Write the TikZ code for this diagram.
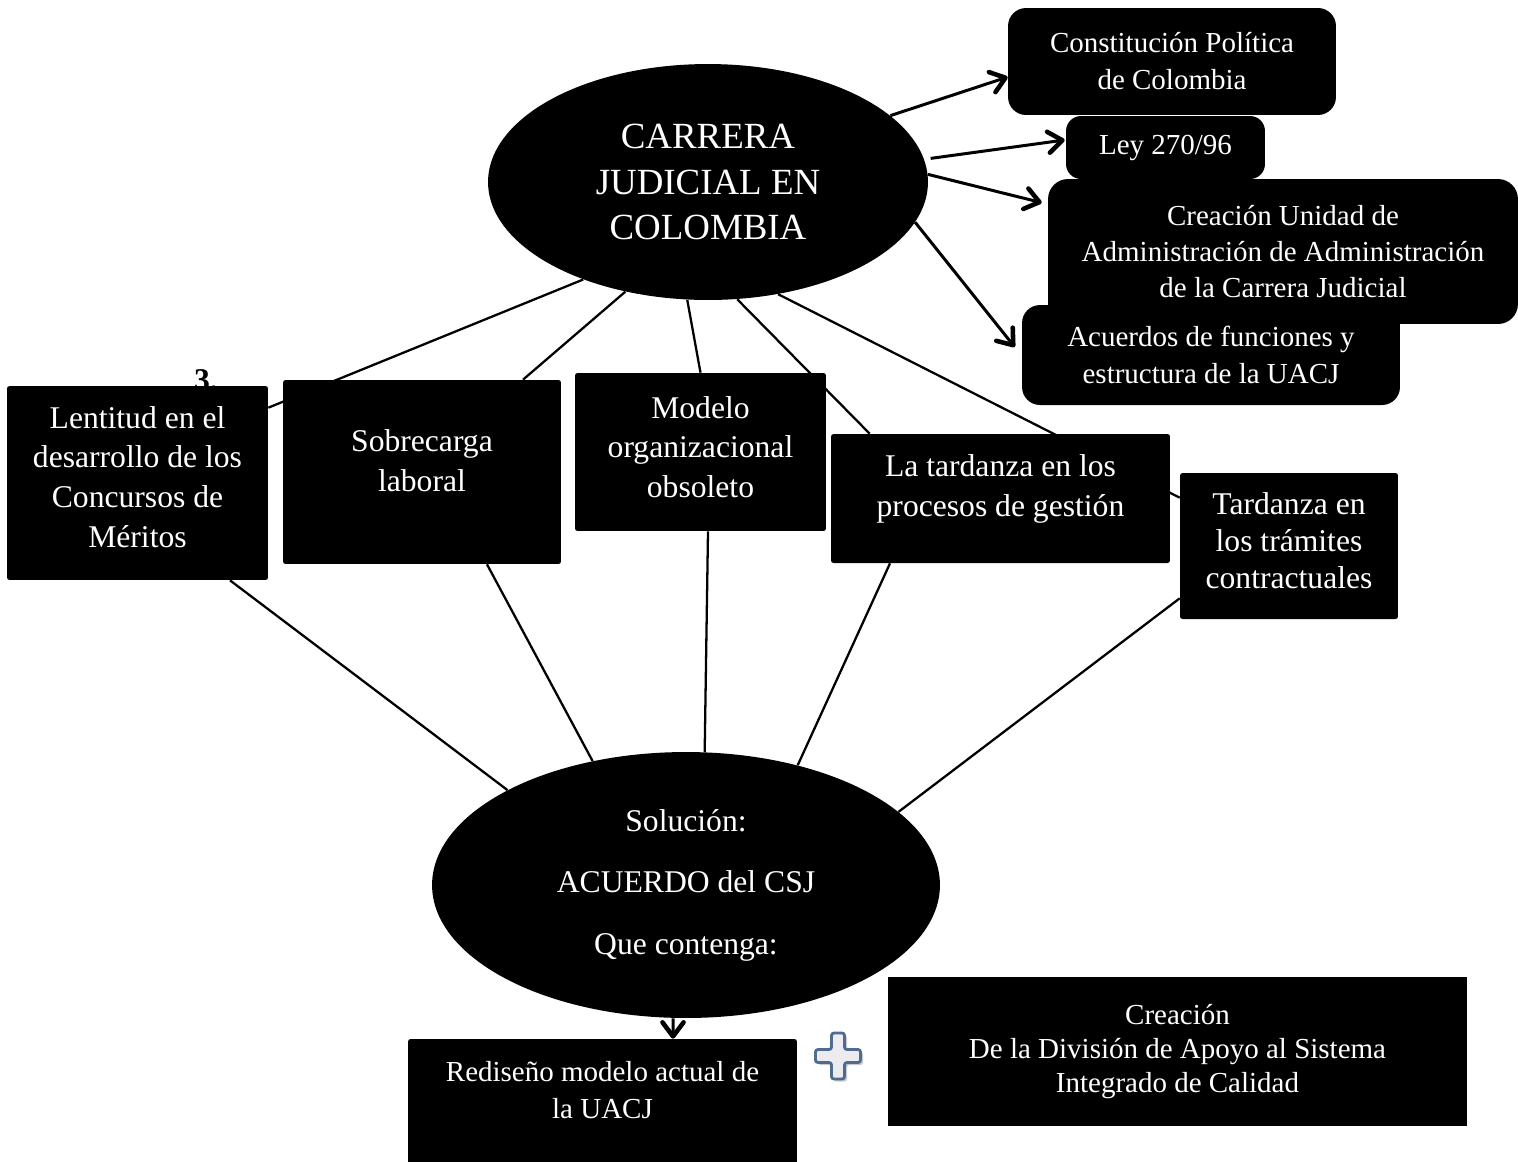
\documentclass[tikz,border=0pt]{standalone}
\usepackage{fontspec}
\setmainfont{Liberation Serif}
\usetikzlibrary{arrows.meta,shapes.geometric,backgrounds}
\definecolor{plusedge}{HTML}{4F6B8F}
\definecolor{plusfill}{HTML}{ECECF0}
\begin{document}
\begin{tikzpicture}[x=0.02cm,y=-0.02cm,
 blk/.style={fill=black,text=white,align=center,inner sep=0pt},
 rbox/.style={blk,rectangle,rounded corners=0.36cm},
 mbox/.style={blk,rectangle,rounded corners=0.05cm},
 fr/.style={font=\fontsize{16.5}{21}\selectfont},
 fm/.style={font=\fontsize{18}{22.7}\selectfont},
 wt/.style={text=white,align=center,inner sep=0pt},
 lnk/.style={line width=1.3pt},
 arr/.style={line width=1.7pt,-{Straight Barb[length=8pt,width=12pt,line width=2.6pt,round]}}
]
\useasboundingbox (0,0) rectangle (1518,1161);
\clip (0,0) rectangle (1518,1161);

% central topic
\node[blk,ellipse,minimum width=8.8cm,minimum height=4.72cm,font=\fontsize{21}{26}\selectfont] (top) at (708,182) {CARRERA\\JUDICIAL EN\\COLOMBIA};

% legal basis boxes
\node[rbox,fr,minimum width=6.56cm,minimum height=2.14cm] (cpc) at (1172,61.5) {Constitución Política\\de Colombia};
\node[rbox,fr,rounded corners=0.3cm,minimum width=3.98cm,minimum height=1.26cm] (ley) at (1165.5,147.5) {Ley 270/96};
\node[rbox,fr,rounded corners=0.4cm,minimum width=9.4cm,minimum height=2.9cm,font=\fontsize{16.5}{20.7}\selectfont] (cua) at (1283,251.5) {Creación Unidad de\\Administración de Administración\\de la Carrera Judicial};
\node[rbox,fr,minimum width=7.56cm,minimum height=2cm] (acu) at (1211,355) {Acuerdos de funciones y\\estructura de la UACJ};

% problems
\node[font=\bfseries\fontsize{18}{20}\selectfont,anchor=base,inner sep=0pt] (three) at (206,390) {3.};
\node[mbox,minimum width=5.22cm,minimum height=3.88cm,label={[wt,fm,yshift=0.12cm]center:Lentitud en el\\desarrollo de los\\Concursos de\\Méritos}] (len) at (137.5,483) {};
\node[mbox,minimum width=5.56cm,minimum height=3.68cm,label={[wt,fm,yshift=0.22cm]center:Sobrecarga\\laboral}] (sob) at (422,472) {};
\node[mbox,minimum width=5.02cm,minimum height=3.16cm,label={[wt,font=\fontsize{18}{22.4}\selectfont,yshift=0.1cm]center:Modelo\\organizacional\\obsoleto}] (mod) at (700.5,452) {};
\node[mbox,minimum width=6.78cm,minimum height=2.58cm,label={[wt,fm,yshift=0.2cm]center:La tardanza en los\\procesos de gestión}] (tar) at (1000.5,498.5) {};
\node[mbox,minimum width=4.36cm,minimum height=2.92cm,label={[wt,font=\fontsize{18}{21}\selectfont,yshift=0.1cm]center:Tardanza en\\los trámites\\contractuales}] (tt) at (1289,546) {};

% solution
\node[blk,ellipse,minimum width=10.16cm,minimum height=5.32cm,font=\fontsize{18}{35}\selectfont] (bot) at (686,885) {Solución:\\ACUERDO del CSJ\\Que contenga:};
\node[mbox,minimum width=7.78cm,minimum height=2.64cm,label={[wt,fr,yshift=0.3cm]center:Rediseño modelo actual de\\la UACJ}] (red) at (602.5,1105) {};
\node[blk,rectangle,minimum width=11.58cm,minimum height=2.98cm,font=\fontsize{16.5}{19.6}\selectfont] (div) at (1177.5,1051.5) {Creación\\De la División de Apoyo al Sistema\\Integrado de Calidad};

\begin{scope}[on background layer]
 % arrows to legal basis
 \draw[arr] (top.20.4) -- ([shift={(0,15.5)}]cpc.west);
 \draw[arr,shorten <=0.13cm] (top.6.2) -- ([shift={(-1,-7.5)}]ley.west);
 \draw[arr] (top.2) -- ([shift={(-6,24)}]cua.north west);
 \draw[arr] (top.-11.3) -- ([shift={(-7,-8)}]acu.west);
 % top to problems
 \draw[lnk] (top.218) -- ([shift={(0,22)}]len.north east);
 \draw[lnk] (top.-127) -- ([shift={(101,0)}]sob.north);
 \draw[lnk] (top.-100.6) -- (mod.north);
 \draw[lnk] (top.-76) -- ([shift={(39,0)}]tar.north west);
 \draw[lnk] (top.-58.9) -- ([shift={(0,25)}]tt.north west);
 % problems to solution
 \draw[lnk] ([shift={(92.5,0)}]len.south) -- (bot.152.5);
 \draw[lnk] ([shift={(65,0)}]sob.south) -- (bot.127.4);
 \draw[lnk] ([shift={(7.5,0)}]mod.south) -- (bot.82.7);
 \draw[lnk] ([shift={(-110.5,0)}]tar.south) -- (bot.47.8);
 \draw[lnk] ([shift={(0,-21)}]tt.south west) -- (bot.19);
 % solution to redesign
 \draw[arr] ([shift={(-13,0)}]bot.south) -- ([shift={(70.5,0)}]red.north);
\end{scope}

% plus sign
\begin{scope}[shift={(2.5,2.5)}]
 \fill[black!35,opacity=0.6,rounded corners=0.05cm] (831.5,1033)--(844.5,1033)--(844.5,1049.5)--(860.5,1049.5)--(860.5,1062.5)--(844.5,1062.5)--(844.5,1079)--(831.5,1079)--(831.5,1062.5)--(815.5,1062.5)--(815.5,1049.5)--(831.5,1049.5)--cycle;
\end{scope}
\draw[fill=plusfill,draw=plusedge,line width=1.6pt,rounded corners=0.05cm] (831.5,1033)--(844.5,1033)--(844.5,1049.5)--(860.5,1049.5)--(860.5,1062.5)--(844.5,1062.5)--(844.5,1079)--(831.5,1079)--(831.5,1062.5)--(815.5,1062.5)--(815.5,1049.5)--(831.5,1049.5)--cycle;
\end{tikzpicture}
\end{document}
